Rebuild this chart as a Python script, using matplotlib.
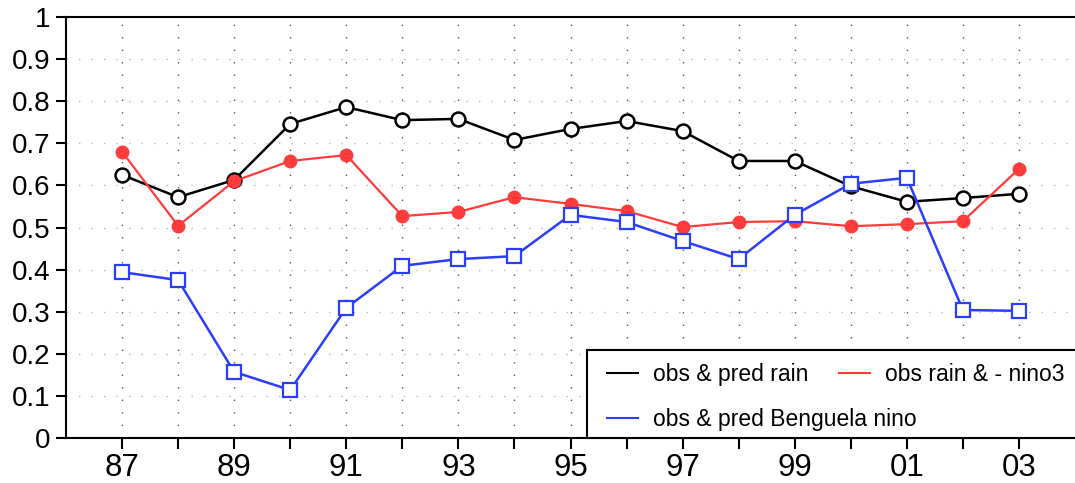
import numpy as np
import matplotlib
matplotlib.use('Agg')
import matplotlib.pyplot as plt
from matplotlib.patches import Rectangle

# data
years = np.arange(87, 104)
year_labels = ['87', '89', '91', '93', '95', '97', '99', '01', '03']
rain = [0.625, 0.572, 0.613, 0.746, 0.786, 0.755, 0.758, 0.708, 0.734,
        0.753, 0.729, 0.658, 0.658, 0.598, 0.561, 0.570, 0.580]
nino3 = [0.680, 0.504, 0.610, 0.658, 0.672, 0.527, 0.537, 0.572, 0.556,
         0.539, 0.501, 0.513, 0.515, 0.503, 0.508, 0.515, 0.639]
benguela = [0.394, 0.375, 0.157, 0.114, 0.309, 0.409, 0.425, 0.432, 0.530,
            0.513, 0.468, 0.425, 0.530, 0.604, 0.618, 0.304, 0.302]

plt.rcParams['font.family'] = ['Liberation Sans', 'DejaVu Sans']

fig = plt.figure(figsize=(10.75, 4.83), dpi=100)
ax = fig.add_axes([66 / 1075, 45 / 483, 1009 / 1075, 421 / 483])

l1, = ax.plot(years, rain, color='black', lw=1.8, marker='o', ms=10,
              mfc='white', mec='black', mew=1.8, zorder=3)
l2, = ax.plot(years, nino3, color='#ff3b3b', lw=1.6, marker='o', ms=9,
              mfc='#ff3b3b', mec='#ff3b3b', zorder=3)
l3, = ax.plot(years, benguela, color='#2b3dff', lw=1.8, marker='s', ms=10,
              mfc='white', mec='#2b3dff', mew=1.6, zorder=4)

ax.set_xlim(86, 104)
ax.set_ylim(0, 1)
ax.set_yticks(np.arange(0, 1.01, 0.1))
ax.set_yticklabels(['0', '0.1', '0.2', '0.3', '0.4', '0.5', '0.6', '0.7', '0.8', '0.9', '1'])
ax.set_xticks(years)
# label every other year
xt = []
for i in range(len(years)):
    xt.append(year_labels[i // 2] if i % 2 == 0 else '')
ax.set_xticklabels(xt)
ax.tick_params(axis='y', labelsize=20, length=7, width=1.5, direction='out', pad=4)
ax.tick_params(axis='x', labelsize=22.5, length=8, width=1.5, direction='out', pad=3)

# dotted grid
ax.grid(axis='x', color='#555555', linestyle=(0, (1, 8)), linewidth=1)
ax.grid(axis='y', color='#bbbbbb', linestyle=(0, (1, 8)), linewidth=1)
ax.set_axisbelow(True)

for s in ['left', 'top', 'bottom']:
    ax.spines[s].set_linewidth(1.5)
ax.spines['right'].set_visible(False)

# legend box (runs off the right edge like the original)
box = Rectangle((0.516, 0), 0.5, 0.209, transform=ax.transAxes, facecolor='white',
                edgecolor='black', lw=1.5, clip_on=False, zorder=4.8)
ax.add_patch(box)

kw = dict(frameon=False, fontsize=16.5, handlelength=1.35, handletextpad=0.65,
          labelspacing=0.95, borderpad=0, borderaxespad=0, loc='upper left')
leg1 = ax.legend([l1, l3], ['obs & pred rain', 'obs & pred Benguela nino'],
                 bbox_to_anchor=(0.536, 0.178), **kw)
ax.add_artist(leg1)
leg2 = ax.legend([l2], ['obs rain & - nino3'], bbox_to_anchor=(0.766, 0.178), **kw)
for lg in (leg1, leg2):
    lg.set_zorder(5)
    for h in lg.legend_handles:
        h.set_marker('')
        h.set_linewidth(1.5)

fig.savefig('out.png', dpi=100)
